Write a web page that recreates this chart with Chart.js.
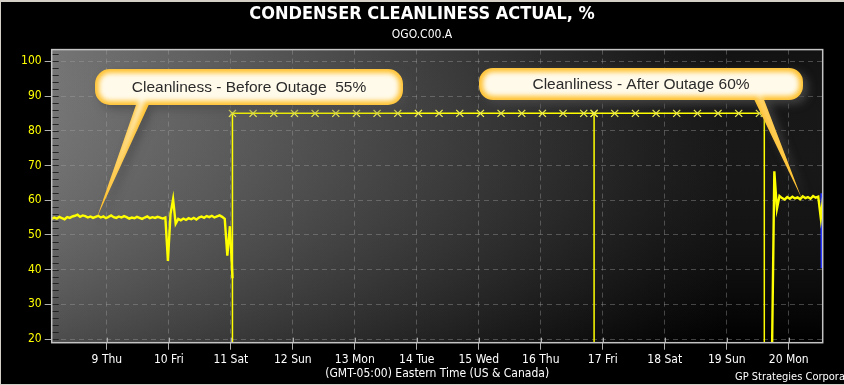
<!DOCTYPE html>
<html>
<head>
<meta charset="utf-8">
<script src="https://cdn.jsdelivr.net/npm/chart.js@4.4.1/dist/chart.umd.min.js"></script>
<style>
  html, body { margin: 0; padding: 0; background: #000; }
  #wrap { width: 844px; height: 385px; position: relative; overflow: hidden; }
</style>
</head>
<body>
<div id="wrap"><canvas id="chart" width="844" height="385"></canvas></div>
<script>
// x axis is day of month (fractional), y axis is %
const dayTicks = [9, 10, 11, 12, 13, 14, 15, 16, 17, 18, 19, 20];
const dayLabels = ['9 Thu', '10 Fri', '11 Sat', '12 Sun', '13 Mon', '14 Tue', '15 Wed', '16 Thu', '17 Fri', '18 Sat', '19 Sun', '20 Mon'];
const yTicks = [20, 30, 40, 50, 60, 70, 80, 90, 100];

// cleanliness before outage, hourly samples from beforeStart
const beforeStart = 8.11;
const beforeValues = [
  54.6, 55.0, 54.7, 55.2, 54.8, 54.5, 55.1, 54.9, 55.3, 55.5,
  55.8, 55.2, 55.6, 55.4, 55.0, 55.3, 54.9, 55.2, 55.5, 55.0,
  55.3, 54.8, 55.2, 55.6, 55.1, 54.9, 55.3, 55.0, 55.4, 55.1,
  54.7, 55.0, 54.8, 55.2, 54.9, 54.6, 55.0, 55.3, 54.8, 55.1,
  54.9, 55.2, 55.0, 54.7, 55.0, 42.5, 56.0, 60.3, 53.2, 54.6,
  54.2, 54.7, 54.3, 54.8, 54.5, 54.9, 54.4, 55.0, 55.3, 54.9,
  55.4, 55.1, 55.5, 55.0, 55.3, 55.6, 55.2, 54.6, 44.0, 52.5,
  37.5
];

// cleanliness after outage, hourly samples from afterStart
const afterStart = 19.726;
const afterValues = [
  10, 68.3, 57.5, 61.2, 60.6, 60.2, 60.9, 60.4, 61.0, 60.5,
  60.8, 60.3, 61.1, 60.6, 60.9, 60.4, 61.2, 60.7, 61.0, 54.8,
  61.5
];

// design value line with x markers (0 = drop to bottom)
const targetTimes = [
  11.026, 11.026, 11.359, 11.693, 12.026, 12.359, 12.693, 13.026, 13.359, 13.693,
  14.026, 14.359, 14.693, 15.026, 15.359, 15.693, 16.026, 16.359, 16.693, 16.86,
  16.86, 16.86, 17.193, 17.527, 17.86, 18.193, 18.527, 18.86, 19.193, 19.527,
  19.606, 19.606
];
const targetValues = [
  0, 85, 85, 85, 85, 85, 85, 85, 85, 85,
  85, 85, 85, 85, 85, 85, 85, 85, 85, 85,
  0, 85, 85, 85, 85, 85, 85, 85, 85, 85,
  85, 0
];

const blueTimes = [20.527, 20.53];
const blueValues = [62.0, 40.4];

const calloutBefore = { text: 'Cleanliness - Before Outage  55%', x: 8.84, y: 55 };
const calloutAfter = { text: 'Cleanliness - After Outage 60%', x: 20.21, y: 60.5 };

const FONT = '"DejaVu Sans Condensed", "DejaVu Sans", sans-serif';

function hourly(start, values) {
  return values.map((v, i) => ({ x: start + i / 24, y: v }));
}
function pairs(times, values) {
  return times.map((t, i) => ({ x: t, y: values[i] }));
}

const backgroundPlugin = {
  id: 'background',
  beforeDraw(chart) {
    const { ctx, chartArea: a } = chart;
    ctx.save();
    ctx.fillStyle = '#000';
    ctx.fillRect(0, 0, chart.width, chart.height);
    const g = ctx.createLinearGradient(a.left, 0, a.right, 0);
    g.addColorStop(0, '#6a6a6a');
    g.addColorStop(0.23, '#4e4e4e');
    g.addColorStop(0.45, '#333333');
    g.addColorStop(0.66, '#181818');
    g.addColorStop(0.78, '#090909');
    g.addColorStop(0.88, '#000000');
    g.addColorStop(1, '#000000');
    ctx.fillStyle = g;
    ctx.fillRect(a.left, a.top, a.width, a.height);
    const v = ctx.createLinearGradient(0, a.top, 0, a.bottom);
    v.addColorStop(0, 'rgba(255,255,255,0.07)');
    v.addColorStop(1, 'rgba(0,0,0,0.28)');
    ctx.fillStyle = v;
    ctx.fillRect(a.left, a.top, a.width, a.height);
    ctx.restore();
  }
};

function drawBubble(ctx, b, tipX, tipY, text) {
  const by = b.y + b.h - 3;
  const outer = new Path2D();
  outer.roundRect(b.x, b.y, b.w, b.h, b.r);
  outer.moveTo(b.b1, by);
  outer.lineTo(b.b2, by);
  outer.lineTo(tipX, tipY);
  outer.closePath();

  ctx.save();
  ctx.shadowColor = 'rgba(75,75,75,0.8)';
  ctx.shadowBlur = 9;
  ctx.shadowOffsetX = 5;
  ctx.shadowOffsetY = 4;
  ctx.fillStyle = '#ffc232';
  ctx.fill(outer);
  ctx.restore();

  ctx.save();
  ctx.clip(outer);
  const inner = new Path2D();
  inner.roundRect(b.x + 4, b.y + 4, b.w - 8, b.h - 8, b.r - 4);
  const mx = (b.b1 + b.b2) / 2;
  inner.moveTo(b.b1 + 4, by - 4);
  inner.lineTo(b.b2 - 4, by - 4);
  inner.lineTo(tipX + (mx - tipX) * 0.12, tipY + (by - tipY) * 0.12);
  inner.closePath();
  ctx.filter = 'blur(2.5px)';
  ctx.fillStyle = '#fffaea';
  ctx.fill(inner);
  ctx.filter = 'none';
  ctx.restore();

  ctx.save();
  ctx.fillStyle = '#2b2b2b';
  ctx.font = '15.5px "Liberation Sans", Arial, sans-serif';
  ctx.textAlign = 'center';
  ctx.textBaseline = 'middle';
  ctx.fillText(text, b.x + b.w / 2, b.y + b.h / 2 + 0.5);
  ctx.restore();
}

const calloutPlugin = {
  id: 'callouts',
  afterDatasetsDraw(chart) {
    const { ctx, scales } = chart;
    drawBubble(ctx, { x: 95, y: 69, w: 308, h: 36, r: 15, b1: 137, b2: 150 },
      scales.x.getPixelForValue(calloutBefore.x), scales.y.getPixelForValue(calloutBefore.y), calloutBefore.text);
    drawBubble(ctx, { x: 479, y: 68, w: 324, h: 32, r: 14, b1: 753, b2: 763 },
      scales.x.getPixelForValue(calloutAfter.x), scales.y.getPixelForValue(calloutAfter.y), calloutAfter.text);
  }
};

const framePlugin = {
  id: 'frame',
  afterDraw(chart) {
    const { ctx, chartArea: a, scales } = chart;
    ctx.save();
    // minor ticks inside the left edge
    ctx.strokeStyle = 'rgba(25,25,25,0.85)';
    ctx.lineWidth = 1;
    for (let v = 20; v <= 102; v += 2) {
      const y = Math.round(scales.y.getPixelForValue(v)) + 0.5;
      ctx.beginPath();
      ctx.moveTo(a.left, y);
      ctx.lineTo(a.left + 7, y);
      ctx.stroke();
    }
    // inner part of x ticks
    ctx.strokeStyle = '#b0b0b0';
    dayTicks.forEach(d => {
      const x = Math.round(scales.x.getPixelForValue(d)) + 0.5;
      ctx.beginPath();
      ctx.moveTo(x, a.bottom - 5);
      ctx.lineTo(x, a.bottom);
      ctx.stroke();
    });
    // plot border
    ctx.strokeStyle = '#c4c4c4';
    ctx.lineWidth = 1.5;
    ctx.strokeRect(a.left, a.top, a.width, a.height);
    // footer
    ctx.fillStyle = '#ffffff';
    ctx.font = '11px ' + FONT;
    ctx.textAlign = 'left';
    ctx.textBaseline = 'middle';
    ctx.fillText('GP Strategies Corporation', 735, 377);
    // window frame
    ctx.fillStyle = '#d4d0c8';
    ctx.fillRect(0, 0, chart.width, 2);
    ctx.fillRect(0, 0, 1, chart.height);
    ctx.fillRect(0, chart.height - 1, chart.width, 1);
    ctx.restore();
  }
};

const gridColor = 'rgba(165,165,165,0.38)';

new Chart(document.getElementById('chart'), {
  type: 'line',
  data: {
    datasets: [
      {
        label: 'Design',
        data: pairs(targetTimes, targetValues),
        borderColor: '#ffff00',
        borderWidth: 1.5,
        pointStyle: 'crossRot',
        pointRadius: c => (c.raw && c.raw.y > 50 ? 5 : 0),
        pointBorderColor: '#eeee55',
        pointBorderWidth: 1.3,
        tension: 0
      },
      {
        label: 'Before',
        data: hourly(beforeStart, beforeValues),
        borderColor: '#ffff00',
        borderWidth: 2.4,
        pointRadius: 0,
        tension: 0
      },
      {
        label: 'After',
        data: hourly(afterStart, afterValues),
        borderColor: '#ffff00',
        borderWidth: 2.4,
        pointRadius: 0,
        tension: 0
      },
      {
        label: 'Other',
        data: pairs(blueTimes, blueValues),
        borderColor: '#2030ff',
        borderWidth: 2,
        pointRadius: 0
      }
    ]
  },
  options: {
    responsive: false,
    animation: false,
    devicePixelRatio: 1,
    layout: { padding: 0 },
    plugins: {
      legend: { display: false },
      tooltip: { enabled: false },
      title: {
        display: true,
        text: 'CONDENSER CLEANLINESS ACTUAL, %',
        color: '#ffffff',
        font: { family: FONT, size: 18, weight: 'bold' },
        padding: { top: 4, bottom: 0 }
      },
      subtitle: {
        display: true,
        text: 'OGO.C00.A',
        color: '#ffffff',
        font: { family: FONT, size: 12 },
        padding: { top: 2.5, bottom: 7.1 }
      }
    },
    scales: {
      x: {
        type: 'linear',
        min: 8.11,
        max: 20.548,
        afterBuildTicks: s => { s.ticks = dayTicks.map(v => ({ value: v })); },
        afterFit: s => { s.height = 42.3; },
        ticks: {
          color: '#ffffff',
          font: { family: FONT, size: 12 },
          padding: 3,
          maxRotation: 0,
          autoSkip: false,
          callback: (v, i) => dayLabels[i]
        },
        grid: { color: gridColor, tickColor: '#b0b0b0', tickLength: 7 },
        border: { display: false, dash: [5, 4] },
        title: {
          display: true,
          text: '(GMT-05:00) Eastern Time (US & Canada)',
          color: '#ffffff',
          font: { family: FONT, size: 12 },
          padding: { top: 0, bottom: 4 }
        }
      },
      y: {
        min: 18.94,
        max: 103.37,
        afterBuildTicks: s => { s.ticks = yTicks.map(v => ({ value: v })); },
        afterFit: s => { s.width = 51.7; },
        ticks: {
          color: '#ffff00',
          font: { family: FONT, size: 12 },
          padding: 3
        },
        grid: { color: gridColor, tickColor: '#b0b0b0', tickLength: 7 },
        border: { display: false, dash: [5, 4] }
      },
      y2: {
        position: 'right',
        display: true,
        afterFit: s => { s.width = 21.3; },
        ticks: { display: false },
        grid: { display: false, drawTicks: false },
        border: { display: false }
      }
    }
  },
  plugins: [backgroundPlugin, calloutPlugin, framePlugin]
});
</script>
</body>
</html>
